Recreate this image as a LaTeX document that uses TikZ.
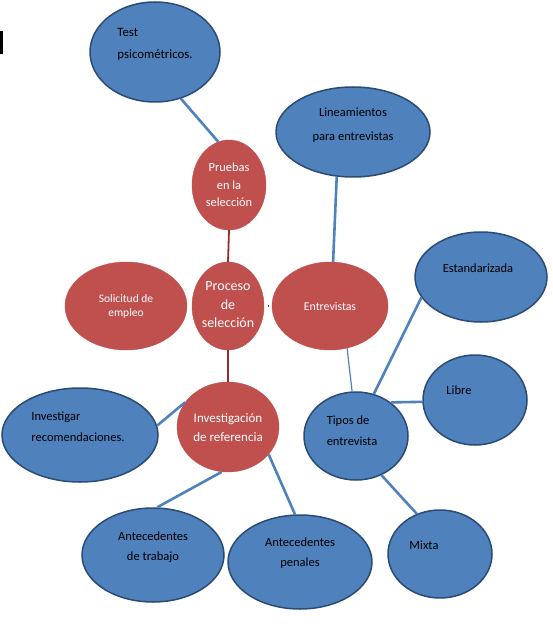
\documentclass[tikz,border=0pt]{standalone}
\usepackage{fontspec}
\setmainfont{Carlito}
\usepackage{tikz}
\usetikzlibrary{shapes.geometric}
\definecolor{ofblue}{HTML}{4F81BD}
\definecolor{ofnavy}{HTML}{2A4B74}
\definecolor{ofred}{HTML}{C0504D}
\definecolor{ofdark}{HTML}{8E2F2C}
\tikzset{
  blueell/.style={ellipse,draw=ofnavy,line width=1.5pt,fill=ofblue,inner sep=0pt},
  redell/.style={ellipse,draw=ofred,fill=ofred,inner sep=0pt},
  bluetxt/.style={inner sep=0pt,align=left,text=black},
  redtxt/.style={inner sep=0pt,align=center,text=white},
  blink/.style={draw=ofblue,line width=2.6pt},
  rlink/.style={draw=ofdark,line width=1.8pt}
}

\begin{document}
\begin{tikzpicture}[x=1pt,y=-1pt]
\useasboundingbox (0,0) rectangle (553,628);
\fill[black] (0,31) rectangle (3,54);
% outer ellipses
\node[blueell,minimum width=130,minimum height=100] (test) at (155,52) {};
\node[blueell,minimum width=154,minimum height=90] (lineam) at (353,132) {};
\node[blueell,minimum width=132,minimum height=90] (estand) at (481,277) {};
\node[blueell,minimum width=104,minimum height=90] (libre) at (475,400) {};
\node[blueell,minimum width=104,minimum height=88] (tipos) at (356,436) {};
\node[blueell,minimum width=104,minimum height=88] (mixta) at (440,554) {};
\node[blueell,minimum width=156,minimum height=94] (invrec) at (80,435) {};
\node[blueell,minimum width=142,minimum height=94] (antt) at (153,555) {};
\node[blueell,minimum width=144,minimum height=94] (antp) at (300,562) {};
% red ellipses
\node[redell,minimum width=74,minimum height=90] (pruebas) at (229,185) {};
\node[redell,minimum width=72,minimum height=88] (proceso) at (228,306) {};
\node[redell,minimum width=122,minimum height=88] (solic) at (126,306) {};
\node[redell,minimum width=116,minimum height=88] (entrev) at (330,306) {};
\node[redell,minimum width=102,minimum height=90] (invref) at (228,427) {};
% connectors
\draw[blink] (test.-61) -- (pruebas.104);
\draw[rlink] (pruebas.south) -- (proceso.north);
\draw[rlink] (proceso.south) -- (invref.north);
\draw[rlink,line width=1.2pt,shorten <=4,shorten >=4] (proceso.east) -- (entrev.west);
\draw[blink] (lineam.-110) -- (entrev.86);
\draw[draw=ofblue,line width=1.2pt] (entrev.-68) -- (tipos.95);
\draw[blink] (tipos.67) -- (estand.199);
\draw[blink] (tipos.44) -- (libre.182);
\draw[blink] (tipos.-57) -- (mixta.120);
\draw[blink] (invref.150) -- (invrec.7);
\draw[blink] (invref.-98) -- (antt.85);
\draw[blink] (invref.-34) -- (antp.96);
% labels
\node[bluetxt,font=\fontsize{12.8}{22}\selectfont] (test-t) at (155,44) {Test\\psicométricos.};
\node[bluetxt,align=center,font=\fontsize{12.5}{24}\selectfont] (lineam-t) at (353,125) {Lineamientos\\para entrevistas};
\node[bluetxt,font=\fontsize{12.5}{21}\selectfont] (estand-t) at (478,268) {Estandarizada};
\node[bluetxt,font=\fontsize{12.5}{21}\selectfont] (libre-t) at (459,390) {Libre};
\node[bluetxt,font=\fontsize{12.5}{21}\selectfont] (tipos-t) at (352,431) {Tipos de\\entrevista};
\node[bluetxt,font=\fontsize{12.5}{21}\selectfont] (mixta-t) at (424,545) {Mixta};
\node[bluetxt,font=\fontsize{12.5}{21}\selectfont] (invrec-t) at (78,427) {Investigar\\recomendaciones.};
\node[bluetxt,align=center,font=\fontsize{12.5}{20}\selectfont] (antt-t) at (153,547) {Antecedentes\\de trabajo};
\node[bluetxt,align=center,font=\fontsize{12.5}{20}\selectfont] (antp-t) at (300,553) {Antecedentes\\penales};
\node[redtxt,font=\fontsize{12.4}{17.5}\selectfont] (pruebas-t) at (229,185) {Pruebas\\en la\\selección};
\node[redtxt,font=\fontsize{14}{18.5}\selectfont] (proceso-t) at (228,305) {Proceso\\de\\selección};
\node[redtxt,font=\fontsize{11.5}{14}\selectfont] (solic-t) at (126,306) {Solicitud de\\empleo};
\node[redtxt,font=\fontsize{11.8}{14}\selectfont] (entrev-t) at (330,306) {Entrevistas};
\node[redtxt,font=\fontsize{13}{19}\selectfont] (invref-t) at (228,428) {Investigación\\de referencia};
\end{tikzpicture}
\end{document}
